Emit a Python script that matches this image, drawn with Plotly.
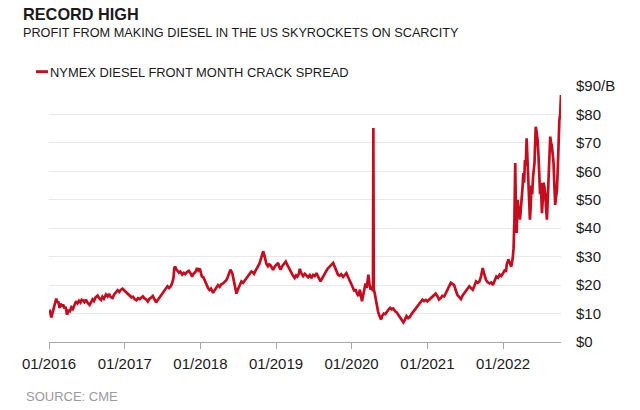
import plotly.graph_objects as go

dates = [
    "2016-01-04", "2016-01-08", "2016-01-12", "2016-01-19", "2016-01-26", "2016-02-01", "2016-02-05", "2016-02-10",
    "2016-02-15", "2016-02-21", "2016-02-26", "2016-03-03", "2016-03-09", "2016-03-15", "2016-03-21", "2016-03-28",
    "2016-04-04", "2016-04-11", "2016-04-18", "2016-04-25", "2016-05-02", "2016-05-11", "2016-05-18", "2016-05-25",
    "2016-06-01", "2016-06-07", "2016-06-13", "2016-06-20", "2016-06-27", "2016-07-05", "2016-07-15", "2016-07-22",
    "2016-07-29", "2016-08-05", "2016-08-12", "2016-08-23", "2016-08-30", "2016-09-08", "2016-09-15", "2016-09-22",
    "2016-10-02", "2016-10-10", "2016-10-17", "2016-10-25", "2016-11-03", "2016-11-10", "2016-11-18", "2016-11-27",
    "2016-12-05", "2016-12-12", "2016-12-21", "2016-12-28",
    "2017-01-05", "2017-01-12", "2017-01-17", "2017-01-25", "2017-02-02", "2017-02-10", "2017-02-18", "2017-02-26",
    "2017-03-06", "2017-03-14", "2017-03-22", "2017-03-29", "2017-04-06", "2017-04-14", "2017-04-22", "2017-04-30",
    "2017-05-08", "2017-05-16", "2017-05-24", "2017-06-01", "2017-06-09", "2017-06-17", "2017-06-25", "2017-07-03",
    "2017-07-10", "2017-07-18", "2017-07-26", "2017-08-03", "2017-08-11", "2017-08-18", "2017-08-24", "2017-08-28",
    "2017-09-01", "2017-09-06", "2017-09-12", "2017-09-19", "2017-09-26", "2017-10-05", "2017-10-13", "2017-10-20",
    "2017-10-28", "2017-11-06", "2017-11-14", "2017-11-22", "2017-11-30", "2017-12-08", "2017-12-16", "2017-12-22",
    "2017-12-29",
    "2018-01-08", "2018-01-15", "2018-01-22", "2018-01-30", "2018-02-07", "2018-02-14", "2018-02-21", "2018-03-03",
    "2018-03-10", "2018-03-18", "2018-03-27", "2018-04-04", "2018-04-12", "2018-04-20", "2018-04-28", "2018-05-07",
    "2018-05-14", "2018-05-20", "2018-05-26", "2018-06-04", "2018-06-10", "2018-06-16", "2018-06-24", "2018-07-01",
    "2018-07-09", "2018-07-18", "2018-07-26", "2018-08-03", "2018-08-11", "2018-08-19", "2018-08-27", "2018-09-04",
    "2018-09-11", "2018-09-17", "2018-09-25", "2018-10-06", "2018-10-13", "2018-10-20", "2018-10-26", "2018-10-31",
    "2018-11-05", "2018-11-10", "2018-11-16", "2018-11-23", "2018-11-29", "2018-12-05", "2018-12-11", "2018-12-18",
    "2018-12-26",
    "2019-01-04", "2019-01-11", "2019-01-17", "2019-01-23", "2019-01-30", "2019-02-06", "2019-02-12", "2019-02-17",
    "2019-02-24", "2019-03-04", "2019-03-11", "2019-03-18", "2019-03-25", "2019-04-01", "2019-04-08", "2019-04-14",
    "2019-04-20", "2019-04-26", "2019-05-03", "2019-05-12", "2019-05-20", "2019-05-28", "2019-06-05", "2019-06-13",
    "2019-06-21", "2019-06-29", "2019-07-07", "2019-07-15", "2019-07-22", "2019-07-29", "2019-08-04", "2019-08-12",
    "2019-08-20", "2019-08-28", "2019-09-04", "2019-09-10", "2019-09-18", "2019-09-26", "2019-10-04", "2019-10-11",
    "2019-10-19", "2019-10-27", "2019-11-04", "2019-11-12", "2019-11-21", "2019-11-29", "2019-12-07", "2019-12-14",
    "2019-12-22",
    "2020-01-01", "2020-01-08", "2020-01-14", "2020-01-20", "2020-01-27", "2020-02-03", "2020-02-10", "2020-02-15",
    "2020-02-20", "2020-02-26", "2020-03-03", "2020-03-08", "2020-03-14", "2020-03-22", "2020-03-27", "2020-04-02",
    "2020-04-09", "2020-04-13", "2020-04-15", "2020-04-17", "2020-04-22", "2020-04-27", "2020-05-02", "2020-05-08",
    "2020-05-15", "2020-05-22", "2020-05-28", "2020-06-04", "2020-06-12", "2020-06-20", "2020-06-27", "2020-07-05",
    "2020-07-12", "2020-07-20", "2020-07-29", "2020-08-06", "2020-08-13", "2020-08-21", "2020-08-29", "2020-09-07",
    "2020-09-14", "2020-09-22", "2020-09-30", "2020-10-08", "2020-10-16", "2020-10-24", "2020-11-01", "2020-11-09",
    "2020-11-17", "2020-11-25", "2020-12-01", "2020-12-08", "2020-12-16", "2020-12-24",
    "2021-01-01", "2021-01-09", "2021-01-17", "2021-01-25", "2021-02-02", "2021-02-10", "2021-02-18", "2021-02-26",
    "2021-03-06", "2021-03-14", "2021-03-23", "2021-03-31", "2021-04-08", "2021-04-16", "2021-04-24", "2021-05-02",
    "2021-05-10", "2021-05-18", "2021-05-26", "2021-06-04", "2021-06-12", "2021-06-20", "2021-06-28", "2021-07-06",
    "2021-07-14", "2021-07-22", "2021-07-30", "2021-08-08", "2021-08-16", "2021-08-24", "2021-09-01", "2021-09-09",
    "2021-09-16", "2021-09-22", "2021-09-25", "2021-10-01", "2021-10-06", "2021-10-11", "2021-10-19", "2021-10-28",
    "2021-11-05", "2021-11-13", "2021-11-22", "2021-11-30", "2021-12-08", "2021-12-16", "2021-12-24",
    "2022-01-03", "2022-01-11", "2022-01-15", "2022-01-19", "2022-01-27", "2022-02-03", "2022-02-10", "2022-02-17",
    "2022-02-21", "2022-02-25", "2022-03-01", "2022-03-04", "2022-03-08", "2022-03-10", "2022-03-13", "2022-03-17",
    "2022-03-21", "2022-03-24", "2022-03-29", "2022-04-02", "2022-04-06", "2022-04-09", "2022-04-13", "2022-04-17",
    "2022-04-21", "2022-04-25", "2022-04-28", "2022-05-03", "2022-05-07", "2022-05-11", "2022-05-15", "2022-05-18",
    "2022-05-22", "2022-05-26", "2022-06-02", "2022-06-05", "2022-06-08", "2022-06-12", "2022-06-17", "2022-06-21",
    "2022-06-25", "2022-06-29", "2022-07-03", "2022-07-08", "2022-07-12", "2022-07-15", "2022-07-19", "2022-07-24",
    "2022-07-28", "2022-08-01", "2022-08-05", "2022-08-09", "2022-08-13", "2022-08-17", "2022-08-21", "2022-08-25",
    "2022-08-29", "2022-09-02", "2022-09-06", "2022-09-10", "2022-09-14", "2022-09-18", "2022-09-22", "2022-09-26",
    "2022-09-30", "2022-10-04", "2022-10-08",
]

crack_spread = [
    11.4, 10.2, 8.6, 10.5, 12.8, 14.0, 15.3, 13.8,
    14.2, 12.0, 13.5, 12.4, 13.2, 11.8, 12.4, 9.6,
    11.0, 10.8, 12.2, 11.6, 13.0, 14.3, 13.6, 14.5,
    13.9, 14.8, 14.6, 14.0, 14.9, 13.8, 13.0, 14.2,
    15.0, 14.4, 15.6, 16.3, 15.4, 14.8, 15.9, 15.2,
    16.7, 16.0, 16.9, 15.8, 15.5, 16.6, 17.2, 18.2,
    17.6, 18.3, 18.7, 18.2,
    17.8, 17.0, 16.7, 16.2, 15.7, 15.9, 15.0, 14.7,
    15.4, 15.1, 15.8, 16.0, 15.3, 15.0, 14.2, 15.2,
    15.6, 16.2, 15.1, 13.9, 14.8, 15.6, 16.4, 17.2,
    17.8, 18.9, 19.6, 19.0, 19.6, 20.8, 22.5, 26.0,
    26.5, 25.6, 25.0, 24.4, 24.8, 23.7, 24.3, 23.9,
    24.6, 25.0, 24.2, 23.0, 24.1, 24.6, 26.0, 25.2,
    25.8,
    23.0, 22.8, 21.5, 20.0, 19.0, 18.3, 18.8, 17.3,
    18.2, 19.2, 20.0, 19.4, 20.3, 20.6, 21.2, 21.8,
    23.0, 24.4, 25.4, 24.2, 22.0, 19.5, 17.0, 18.5,
    20.2, 21.3, 20.8, 21.6, 22.0, 23.2, 23.8, 24.8,
    24.5, 24.0, 25.2, 26.6, 27.5, 29.2, 30.5, 31.9,
    30.7, 29.0, 27.4, 26.6, 27.3, 27.0, 26.2, 25.4,
    26.5,
    27.2, 27.8, 26.4, 25.4, 26.6, 27.4, 27.9, 28.3,
    27.2, 26.0, 25.2, 24.0, 23.2, 22.5, 23.4, 23.0,
    23.7, 25.7, 24.2, 23.2, 24.0, 23.4, 22.8, 23.5,
    22.5, 23.6, 23.2, 24.2, 23.0, 22.2, 21.3, 22.4,
    23.6, 24.6, 25.4, 26.0, 26.8, 27.2, 27.8, 26.4,
    24.8, 23.7, 23.3, 23.8, 22.9, 23.6, 24.2, 23.0,
    21.8,
    20.6, 19.0, 17.8, 18.6, 17.0, 16.2, 18.4, 16.8,
    14.3, 16.5, 18.2, 20.6, 19.0, 23.7, 20.5, 18.4,
    19.6, 17.8, 75.2, 18.5, 17.0, 14.8, 12.6, 10.6,
    9.1, 7.9, 9.2, 10.0, 9.8, 10.8, 11.4, 12.0,
    11.5, 11.8, 10.8, 10.4, 9.6, 8.8, 7.9, 6.9,
    7.8, 9.1, 8.4, 8.8, 9.8, 10.6, 11.4, 12.2,
    13.0, 13.7, 14.2, 14.9, 14.4, 14.8,
    14.3, 14.9, 15.4, 16.0, 16.4, 17.0, 16.2, 14.9,
    15.4, 16.2, 16.0, 17.2, 18.4, 19.6, 20.8, 20.4,
    20.0, 18.2, 16.5, 15.8, 15.1, 16.4, 17.2, 18.4,
    18.8, 19.6, 19.0, 18.4, 19.8, 21.3, 20.8, 21.3,
    22.8, 24.5, 26.0, 24.2, 22.6, 21.8, 21.0, 20.6,
    20.9, 20.0, 21.6, 23.0, 22.6, 23.7, 23.2,
    24.4, 25.4, 24.6, 27.2, 29.0, 27.6, 26.5, 29.5,
    33.0, 43.0, 62.9, 48.0, 38.3, 44.0, 50.0, 46.0,
    47.0, 43.0, 47.0, 52.0, 55.0, 59.4, 56.0, 64.0,
    62.0, 71.6, 66.0, 57.0, 50.0, 43.0, 48.0, 55.0,
    52.0, 58.0, 63.0, 70.0, 75.7, 74.0, 71.0, 66.0,
    57.0, 52.0, 56.0, 45.3, 50.0, 56.0, 55.0, 52.0,
    47.0, 43.0, 50.0, 57.0, 65.0, 72.2, 70.0, 69.0,
    66.0, 63.0, 55.0, 48.2, 51.0, 53.0, 60.0, 74.6,
    78.0, 80.0, 86.8,
]

year_ticks = ["2016-01-01", "2017-01-01", "2018-01-01", "2019-01-01",
              "2020-01-01", "2021-01-01", "2022-01-01"]
year_labels = ["01/2016", "01/2017", "01/2018", "01/2019",
               "01/2020", "01/2021", "01/2022"]
y_ticks = [0, 10, 20, 30, 40, 50, 60, 70, 80, 90]
y_labels = ["$0", "$10", "$20", "$30", "$40", "$50", "$60", "$70", "$80", "$90/B"]

title_text = "RECORD HIGH"
subtitle_text = "PROFIT FROM MAKING DIESEL IN THE US SKYROCKETS ON SCARCITY"
series_name = "NYMEX DIESEL FRONT MONTH CRACK SPREAD"
source_text = "SOURCE: CME"

RED = "#c40d1e"
TXT = "#1a1a1a"
FONT = "Liberation Sans, Arial, sans-serif"

# The page body margin is removed (see post_script), so figure px == screen px.
W, H = 640, 410
PLOT_LEFT, PLOT_RIGHT, PLOT_TOP, PLOT_BOTTOM = 49, 561, 86, 342
L = PLOT_LEFT
T = PLOT_TOP
R = W - PLOT_RIGHT
B = H - PLOT_BOTTOM
PW = PLOT_RIGHT - PLOT_LEFT
PH = PLOT_BOTTOM - PLOT_TOP


def px_x(px):
    return (px - PLOT_LEFT) / PW


def px_y(py):
    return (PLOT_BOTTOM - py) / PH


fig = go.Figure(
    go.Scatter(x=dates, y=crack_spread, mode="lines",
               line=dict(color=RED, width=2.7), name=series_name,
               showlegend=False)
)

fig.update_layout(
    width=W, height=H,
    margin=dict(l=L, r=R, t=T, b=B),
    paper_bgcolor="white", plot_bgcolor="white",
    showlegend=False,
)

fig.update_xaxes(
    range=["2016-01-01", "2022-10-08"],
    tickvals=year_ticks, ticktext=year_labels,
    showgrid=False, zeroline=False,
    showline=True, linecolor="#a6a6a6", linewidth=1,
    ticks="outside", ticklen=6, tickcolor="#a6a6a6", tickwidth=1,
    ticklabelstandoff=2,
    tickfont=dict(family=FONT, size=15, color=TXT),
)

fig.update_yaxes(
    range=[0, 90], side="right",
    tickvals=y_ticks, ticktext=y_labels,
    showgrid=True, gridcolor="#e8e8e8", gridwidth=1,
    zeroline=False, showline=False, ticks="",
    ticklabelstandoff=14,
    tickfont=dict(family=FONT, size=15, color=TXT),
)

fig.add_annotation(x=px_x(21), y=px_y(13.7), xref="paper", yref="paper",
                   text="<b>" + title_text + "</b>", showarrow=False,
                   xanchor="left", yanchor="middle",
                   font=dict(family=FONT, size=16.3, color=TXT))
fig.add_annotation(x=px_x(21), y=px_y(33.3), xref="paper", yref="paper",
                   text=subtitle_text, showarrow=False,
                   xanchor="left", yanchor="middle",
                   font=dict(family=FONT, size=12.7, color=TXT))
fig.add_shape(type="line", xref="paper", yref="paper",
              x0=px_x(36), x1=px_x(48), y0=px_y(71.7), y1=px_y(71.7),
              line=dict(color=RED, width=3))
fig.add_annotation(x=px_x(48), y=px_y(72), xref="paper", yref="paper",
                   text=series_name, showarrow=False,
                   xanchor="left", yanchor="middle",
                   font=dict(family=FONT, size=12.9, color=TXT))
fig.add_annotation(x=px_x(24), y=px_y(396.7), xref="paper", yref="paper",
                   text=source_text, showarrow=False,
                   xanchor="left", yanchor="middle",
                   font=dict(family=FONT, size=13, color="#9a9a9a"))

fig.write_html(
    "out.html",
    config={"displayModeBar": False},
    post_script="document.body.style.margin='0px';document.body.style.overflow='hidden';",
)
